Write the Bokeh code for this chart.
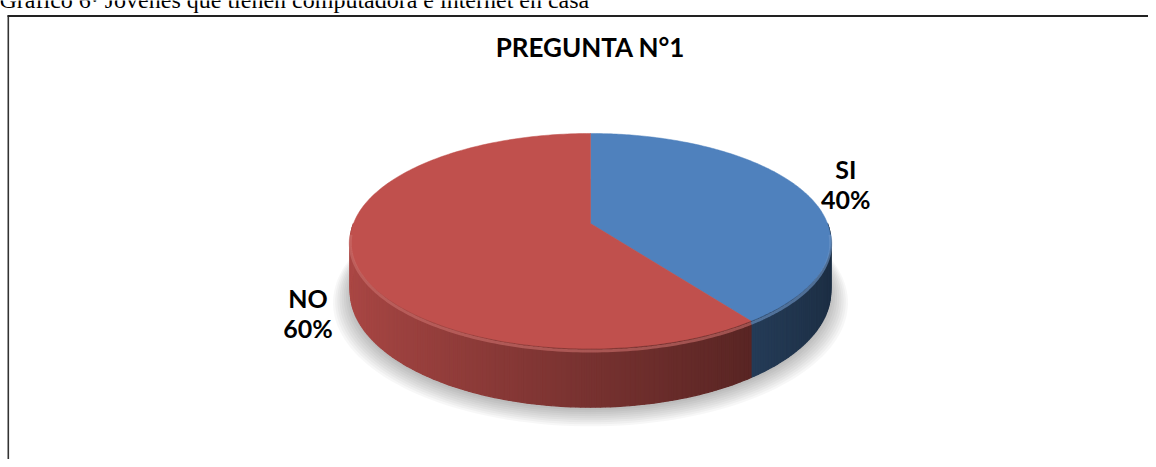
import numpy as np
from bokeh.plotting import figure
from bokeh.models import Range1d
from bokeh.core.properties import value
from bokeh.embed import file_html
from bokeh.resources import INLINE

# ---- data ----
categories = ["SI", "NO"]
values = [40, 60]
pct_labels = ["40%", "60%"]
colors = ["#4F81BD", "#C0504D"]
title_text = "PREGUNTA N°1"
caption_text = "Gráfico 6· Jóvenes que tienen computadora e internet en casa"

# ---- layout constants ----
W, H = 1148, 459
CX, CY = 590.0, 223.0          # apex of the pie (px)
SX, SY, PP = 237.0, 104.7, 0.163
DEPTH = 49.0
LABEL_R = 1.19
label_dy = [-3.0, 49.0]

p = figure(width=W, height=H, x_range=Range1d(0, W), y_range=Range1d(H, 0),
           output_backend="svg", toolbar_location=None, min_border=0,
           x_axis_type=None, y_axis_type=None)
p.grid.visible = False
p.outline_line_color = None
p.background_fill_color = "white"
p.border_fill_color = "white"


def proj(theta, drop=0.0, scale=1.0):
    X = np.sin(theta) * scale
    Z = np.cos(theta) * scale
    d = 1 + PP * np.cos(theta)
    return CX + SX * X / d, CY - SY * Z / d + drop / d


def rgb_hex(c, f):
    c = c.lstrip("#")
    r, g, b = (int(c[i:i + 2], 16) for i in (0, 2, 4))
    r, g, b = (max(0, min(255, int(round(v * f)))) for v in (r, g, b))
    return "#%02x%02x%02x" % (r, g, b)


def mix(c, f):
    c = c.lstrip("#")
    r, g, b = (int(c[i:i + 2], 16) for i in (0, 2, 4))
    r, g, b = (int(round(v + (255 - v) * f)) for v in (r, g, b))
    return "#%02x%02x%02x" % (r, g, b)


# frame
p.line([7.8, 7.8], [15, H + 5], line_color="#333333", line_width=1.6)
p.line([7, W + 5], [15.5, 15.5], line_color="#222222", line_width=2)

# caption (cut off at the top, as in the source)
p.text(x=[-1], y=[-1], text=[caption_text], text_font=value("Liberation Serif"),
       text_font_size="24px", text_baseline="alphabetic", text_align="left",
       text_color="#000000")

# title
p.text(x=[CX], y=[46], text=[title_text], text_font=value("Lato"),
       text_font_size="26px", text_font_style="bold", text_baseline="middle",
       text_align="center", text_color="#000000")

# slice angles
fr = np.array(values, dtype=float) / np.sum(values)
ends = np.cumsum(fr) * 2 * np.pi
starts = np.concatenate([[0.0], ends[:-1]])


def slice_of(t):
    for i in range(len(values)):
        if starts[i] <= t < ends[i]:
            return i
    return len(values) - 1


# shadow
full = np.linspace(0, 2 * np.pi, 181)
for k in range(9):
    sx, sy = proj(full, DEPTH, 1.0 + 0.009 * k)
    p.patch(sx, sy + 3 + k * 0.9, fill_color="#000000", fill_alpha=0.03, line_color=None)

# side strips
ts = np.radians(np.arange(90, 270.5, 1.0))
xs_list, ys_list, fills = [], [], []
for t0, t1 in zip(ts[:-1], ts[1:]):
    x0t, y0t = proj(t0)
    x1t, y1t = proj(t1)
    x0b, y0b = proj(t0, DEPTH)
    x1b, y1b = proj(t1, DEPTH)
    tm = 0.5 * (t0 + t1)
    i = slice_of(tm)
    f = 0.62 - 0.27 * np.sin(tm)
    xs_list.append([x0t, x1t, x1b, x0b])
    ys_list.append([y0t, y1t, y1b, y0b])
    fills.append(rgb_hex(colors[i], f))
p.patches(xs_list, ys_list, fill_color=fills, line_color=fills, line_width=1.3)

# top faces
for i in range(len(values)):
    tt = np.linspace(starts[i], ends[i], 200)
    ax, ay = proj(tt)
    px = np.concatenate([[CX], ax, [CX]])
    py = np.concatenate([[CY], ay, [CY]])
    p.patch(px, py, fill_color=colors[i], line_color=colors[i], line_width=0.5)

# rim highlight (bevel)
for i in range(len(values)):
    a0 = max(starts[i], np.radians(95))
    a1 = min(ends[i], np.radians(265))
    if a1 > a0:
        tt = np.linspace(a0, a1, 120)
        rx, ry = proj(tt, 2.0)
        p.line(rx, ry, line_color=mix(colors[i], 0.18), line_width=3, line_alpha=0.6)

# labels
for i in range(len(values)):
    tm = 0.5 * (starts[i] + ends[i])
    lx, ly = proj(tm, 0.0, LABEL_R)
    ly = ly + label_dy[i]
    p.text(x=[lx, lx], y=[ly - 15, ly + 15], text=[categories[i], pct_labels[i]],
           text_font=value("Lato"), text_font_size="25px", text_font_style="bold",
           text_baseline="middle", text_align="center", text_color="#000000")

open("out.html", "w").write(file_html(p, INLINE))
